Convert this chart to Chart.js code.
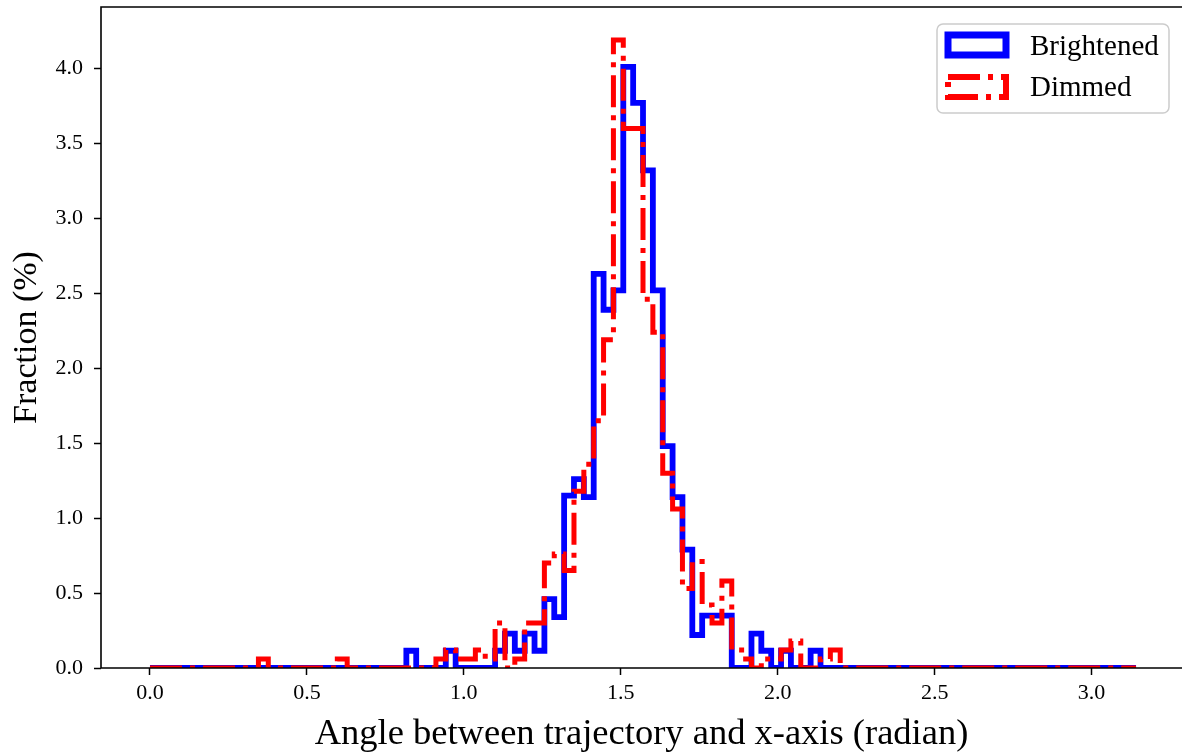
<!DOCTYPE html>
<html lang="en">
<head>
<meta charset="UTF-8">
<title>Angle between trajectory and x-axis</title>
<style>
  html, body { margin: 0; padding: 0; background: #ffffff; }
  canvas { display: block; }
</style>
<script src="https://cdn.jsdelivr.net/npm/chart.js"></script>
</head>
<body>
<canvas id="angleChart" width="1182" height="753"></canvas>
<script>
// histogram: 100 equal bins between 0 and pi, values in percent
const binCount = 100;
const angleMax = Math.PI;

const brightened = [
  0, 0, 0, 0, 0, 0, 0, 0, 0, 0,
  0, 0, 0, 0, 0, 0, 0, 0, 0, 0,
  0, 0, 0, 0, 0, 0, 0.115, 0, 0, 0,
  0.115, 0, 0, 0, 0, 0.115, 0.23, 0.115, 0.23, 0.115,
  0.46, 0.34, 1.15, 1.26, 1.14, 2.63, 2.39, 2.52, 4.01, 3.77,
  3.32, 2.52, 1.48, 1.14, 0.79, 0.22, 0.35, 0.35, 0.35, 0,
  0, 0.23, 0.115, 0, 0.115, 0, 0, 0.115, 0, 0,
  0, 0, 0, 0, 0, 0, 0, 0, 0, 0,
  0, 0, 0, 0, 0, 0, 0, 0, 0, 0,
  0, 0, 0, 0, 0, 0, 0, 0, 0, 0
];

const dimmed = [
  0, 0, 0, 0, 0, 0, 0, 0, 0, 0,
  0, 0.06, 0, 0, 0, 0, 0, 0, 0, 0.06,
  0, 0, 0, 0, 0, 0, 0, 0, 0, 0.06,
  0.12, 0.06, 0.06, 0.12, 0.06, 0.30, 0, 0.06, 0.30, 0.30,
  0.70, 0.76, 0.65, 1.18, 1.36, 1.65, 2.19, 4.19, 3.60, 3.60,
  2.46, 2.24, 1.30, 1.06, 0.53, 0.71, 0.42, 0.30, 0.58, 0.12,
  0.06, 0, 0.06, 0.06, 0.12, 0.18, 0, 0, 0.06, 0.12,
  0, 0, 0, 0, 0, 0, 0, 0, 0, 0,
  0, 0, 0, 0, 0, 0, 0, 0, 0, 0,
  0, 0, 0, 0, 0, 0, 0, 0, 0, 0
];

const seriesNames = ['Brightened', 'Dimmed'];
const xTickValues = [0, 0.5, 1.0, 1.5, 2.0, 2.5, 3.0];
const yTickValues = [0, 0.5, 1.0, 1.5, 2.0, 2.5, 3.0, 3.5, 4.0];

const serif = "'Liberation Serif', 'DejaVu Serif', serif";
const redDash = [32, 8, 5, 8];

// left bin edges + closing point, drawn as a step line
function stepPoints(values) {
  const w = angleMax / binCount;
  const pts = values.map((v, i) => ({ x: i * w, y: v }));
  pts.push({ x: angleMax, y: values[values.length - 1] });
  return pts;
}

// spines + legend on top of the lines
// (the right spine sits just past the picture edge, so it is not drawn)
const framePlugin = {
  id: 'frameAndLegend',
  afterDatasetsDraw(chart) {
    const ctx = chart.ctx;
    const a = chart.chartArea;
    ctx.save();
    ctx.strokeStyle = '#000000';
    ctx.lineWidth = 1.6;
    ctx.beginPath();
    ctx.moveTo(a.right + 2, a.top);
    ctx.lineTo(a.left, a.top);
    ctx.lineTo(a.left, a.bottom);
    ctx.lineTo(a.right + 2, a.bottom);
    ctx.stroke();

    // legend box
    const bx = 937, by = 24, bw = 232, bh = 89;
    ctx.beginPath();
    ctx.roundRect(bx, by, bw, bh, 6);
    ctx.fillStyle = 'rgba(255,255,255,0.8)';
    ctx.fill();
    ctx.strokeStyle = '#cccccc';
    ctx.lineWidth = 1.5;
    ctx.stroke();

    ctx.fillStyle = '#ffffff';
    ctx.lineWidth = 7;
    ctx.lineJoin = 'miter';
    ctx.strokeStyle = '#0000ff';
    ctx.setLineDash([]);
    ctx.fillRect(948, 35, 58, 20);
    ctx.strokeRect(948, 35, 58, 20);

    ctx.lineWidth = 6;
    ctx.strokeStyle = '#ff0000';
    ctx.lineCap = 'butt';
    ctx.setLineDash(redDash);
    ctx.strokeRect(948, 77, 58, 20);
    ctx.setLineDash([]);

    ctx.fillStyle = '#000000';
    ctx.font = '29px ' + serif;
    ctx.textAlign = 'left';
    ctx.textBaseline = 'alphabetic';
    ctx.fillText(seriesNames[0], 1030, 55);
    ctx.fillText(seriesNames[1], 1030, 96);
    ctx.restore();
  }
};

new Chart(document.getElementById('angleChart'), {
  type: 'line',
  data: {
    datasets: [
      {
        label: seriesNames[0],
        data: stepPoints(brightened),
        borderColor: '#0000ff',
        borderWidth: 5.8,
        stepped: true,
        pointRadius: 0,
        fill: false,
        borderJoinStyle: 'miter',
        order: 2
      },
      {
        label: seriesNames[1],
        data: stepPoints(dimmed),
        borderColor: '#ff0000',
        borderWidth: 5,
        borderDash: redDash,
        borderCapStyle: 'butt',
        stepped: true,
        pointRadius: 0,
        fill: false,
        borderJoinStyle: 'miter',
        order: 1
      }
    ]
  },
  options: {
    responsive: false,
    animation: false,
    devicePixelRatio: 1,
    layout: { padding: { top: 7, right: 0, left: 0, bottom: 0 } },
    plugins: {
      legend: { display: false },
      tooltip: { enabled: false }
    },
    scales: {
      x: {
        type: 'linear',
        min: -0.156,
        max: 3.288,
        afterBuildTicks: (s) => { s.ticks = xTickValues.map(v => ({ value: v })); },
        afterFit: (s) => { s.height = 85; s.paddingLeft = 0; s.paddingRight = 0; },
        border: { display: false },
        grid: { drawOnChartArea: false, drawTicks: true, tickLength: 7, tickWidth: 1.5, tickColor: '#000000' },
        ticks: {
          color: '#000000',
          padding: 5,
          maxRotation: 0,
          font: { family: serif, size: 22 },
          callback: (v) => v.toFixed(1)
        },
        title: {
          display: true,
          text: 'Angle between trajectory and x-axis (radian)',
          color: '#000000',
          font: { family: serif, size: 36.5 },
          padding: { top: 0, bottom: -3 }
        }
      },
      y: {
        min: 0,
        max: 4.41,
        afterBuildTicks: (s) => { s.ticks = yTickValues.map(v => ({ value: v })); },
        afterFit: (s) => { s.width = 101; s.paddingTop = 0; s.paddingBottom = 0; },
        border: { display: false },
        grid: { drawOnChartArea: false, drawTicks: true, tickLength: 7, tickWidth: 1.5, tickColor: '#000000' },
        ticks: {
          color: '#000000',
          padding: 11,
          font: { family: serif, size: 22 },
          callback: (v) => v.toFixed(1)
        },
        title: {
          display: true,
          text: 'Fraction (%)',
          color: '#000000',
          font: { family: serif, size: 34 },
          padding: { top: 7, bottom: 0 }
        }
      }
    }
  },
  plugins: [framePlugin]
});
</script>
</body>
</html>
